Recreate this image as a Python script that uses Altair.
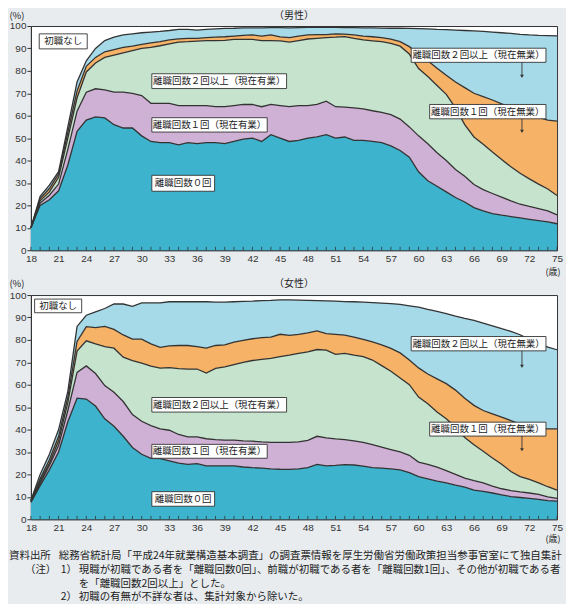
import altair as alt
import pandas as pd

FONT = "Noto Sans CJK JP"
INK = "#333333"
W, H = 528, 225

AGES = list(range(18, 76))

SERIES = [
    "離職回数0回",
    "離職回数1回（現在有業）",
    "離職回数2回以上（現在有業）",
    "離職回数1回（現在無業）",
    "離職回数2回以上（現在無業）",
]
COLOURS = ["#3db3cd", "#cfb1d5", "#c6e4cd", "#f6b266", "#a7dae9"]

# upper edge (cumulative %) of each band, ages 18..75
MALE_ZERO = [10, 20, 22.5, 26.5, 38, 53, 58, 59.5, 59, 56,
             54.5, 54.5, 51, 48.5, 48, 48, 47, 48, 47.5, 48,
             48, 47.5, 48.5, 49.5, 50, 48.5, 51.5, 50, 48.5, 49,
             50, 50.5, 51.5, 50, 50.5, 49, 49, 48.5, 48, 46.5,
             44.5, 41.5, 35, 31, 28.5, 26, 23.5, 21.5, 19, 17.5,
             16.3, 15.6, 15, 14.4, 13.8, 13.2, 12.6, 11.8]
MALE_ONE_EMP = [10, 21, 24.5, 29.5, 45, 62, 70.5, 72, 71.5, 70.5,
                70.5, 70, 69, 65.5, 65.5, 65.5, 64.5, 64.5, 64.5, 64.5,
                64, 64, 64.5, 65, 65, 64, 65, 64.5, 64, 64.5,
                64.5, 65, 66.5, 64, 63.8, 63.5, 63, 62.2, 61.5, 60.5,
                58.5, 55, 51, 47.5, 43.5, 40, 36, 33, 29.3, 27,
                25.3, 23.7, 22, 20.5, 19.5, 18.6, 17.5, 15.8]
MALE_TWO_EMP = [10, 22, 26, 32.5, 50, 68, 79.5, 83.5, 86, 87,
                88, 89, 90, 90.5, 91.2, 92, 92.8, 93, 93.3, 93.5,
                93.5, 93.6, 94, 94, 94, 93.5, 93.5, 93.4, 92.8, 93.5,
                94.2, 94.5, 94.8, 95, 95.3, 94.5, 93.8, 93.4, 93, 92.3,
                91, 87.5, 81, 77.5, 73.5, 69.5, 63.5, 56, 50.5, 47.3,
                43.8, 40.5, 37.2, 34.3, 31.8, 29.5, 27.3, 24.4]
MALE_ONE_NOEMP = [10, 23, 27.5, 34, 52.5, 71, 82, 86, 88.5, 89.5,
                  90.5, 91, 91.8, 92.5, 93, 93.8, 94.3, 94.5, 94.5, 94.8,
                  95, 95.2, 95.5, 95.8, 96, 95.5, 96, 95.2, 94.8, 95.5,
                  96, 96.2, 96.2, 96.5, 96.4, 96, 95.5, 95.2, 94.8, 94.2,
                  93, 90.8, 87.5, 84.5, 81.2, 78, 75, 72.5, 70, 68.5,
                  67, 65.3, 63.8, 62.2, 60.7, 59.2, 58, 57.6]
MALE_TWO_NOEMP = [10, 24, 29, 35, 55, 75, 84.5, 90, 93.5, 95,
                  96, 96.5, 97, 97.3, 97.6, 98, 98.5, 98.5, 98.2, 98.5,
                  98.7, 98.9, 99, 99.2, 99.2, 99.2, 99.3, 99.3, 99.2, 99.3,
                  99.4, 99.4, 99.5, 99.4, 99.3, 99.3, 99.2, 99.2, 99.1, 99,
                  99, 98.9, 98.8, 98.7, 98.5, 98.4, 98.2, 98, 97.8, 97.6,
                  97.3, 97, 96.7, 96.3, 96, 95.8, 95.7, 95.6]

FEMALE_ZERO = [7.5, 15, 22, 30, 43.5, 54, 53.6, 50.5, 44.8, 41.5,
               37, 32, 29, 27.2, 27, 26, 25, 24.5, 24.8, 23.8,
               23.8, 23.8, 23.8, 23.3, 23, 22.8, 22.5, 22.3, 22.2, 22.5,
               23, 24.5, 23.8, 24, 24.4, 24.2, 23.7, 23, 22.8, 22.5,
               22, 20.8, 19, 18, 17, 16.2, 15.2, 14.3, 13, 12.4,
               11.7, 10.9, 10.1, 9.7, 9.3, 8.9, 8.3, 8.1]
FEMALE_ONE_EMP = [7.8, 16, 24, 33, 48.5, 65.5, 68.4, 65, 59.6, 56.6,
                  52.5, 46.7, 43.7, 41.8, 40.3, 39.7, 37.8, 36.7, 36.7, 35.9,
                  35.5, 35.3, 35.3, 35, 34.8, 34.5, 34.3, 34.3, 34.3, 34.5,
                  35.2, 37, 36.3, 35.8, 35.5, 35, 34.3, 33.3, 32.2, 31.1,
                  30, 28.5, 25.5, 24.5, 23.2, 21.7, 20, 18.3, 17.2, 16.2,
                  14.8, 13.6, 12.8, 12.2, 11.7, 11.1, 10, 9.3]
FEMALE_TWO_EMP = [8, 17, 25, 35, 52, 75, 79.6, 78.2, 77, 76.3,
                  72.3, 70.8, 69.6, 68.3, 67.4, 67.6, 67.2, 67, 67, 65.2,
                  67.3, 68, 69, 70, 70.8, 71.3, 71.8, 72.5, 73.2, 74,
                  74.7, 75.7, 75.4, 73.5, 74, 73.2, 72.5, 71, 68.5, 66,
                  63, 60, 54.5, 51.5, 47.8, 44.8, 41, 36.5, 33.2, 30.3,
                  27.3, 24.5, 21.3, 19, 17.8, 16.2, 14.5, 13]
FEMALE_ONE_NOEMP = [8.2, 18, 26.5, 37, 54.5, 79.3, 85.9, 85.5, 86, 84.7,
                    82.2, 80.3, 80.3, 78.2, 76.7, 77.3, 77.5, 77.5, 77, 76.3,
                    77.5, 77.8, 79, 79.8, 80.5, 81, 81.2, 82.5, 82, 82.5,
                    83.1, 84, 82.8, 82.5, 82.1, 81.2, 80.2, 79.1, 77.8, 76.2,
                    74.2, 71, 67.5, 64.8, 62.6, 60.5, 57.6, 54, 50.8, 48.5,
                    47, 45.5, 44, 42.4, 41.3, 40.7, 40.3, 40.3]
FEMALE_TWO_NOEMP = [8.5, 20, 29, 40, 57, 86, 91, 92.5, 94, 96,
                    96, 95, 96.5, 96.5, 96.5, 97, 97, 97, 97, 97,
                    96.8, 96.8, 97, 97.2, 97.3, 97.5, 97.6, 97.8, 97.8, 97.7,
                    97.6, 97.5, 97.4, 97.3, 97.1, 97, 96.8, 96.6, 96.4, 96.2,
                    95.8, 95.2, 94.6, 93.6, 92.7, 91.7, 90.6, 89.6, 88.7, 87.5,
                    86.3, 85, 83.8, 82.3, 80.2, 78.6, 76.8, 75.6]

# label boxes: text, x from/to (age), y from/to (%)
MALE_BOXES = [
    ("初職なし", 18.9, 24.1, 89.8, 96.5),
    ("離職回数２回以上（現在有業）", 31.1, 45.7, 72.1, 78.7),
    ("離職回数１回（現在有業）", 31.1, 43.6, 52.7, 59.1),
    ("離職回数０回", 31.1, 37.9, 26.3, 33.4),
    ("離職回数２回以上（現在無業）", 59.2, 73.8, 83.8, 90.1),
    ("離職回数１回（現在無業）", 61.2, 73.8, 58.6, 65.0),
]
FEMALE_BOXES = [
    ("初職なし", 18.4, 23.5, 92.1, 98.2),
    ("離職回数２回以上（現在有業）", 31.1, 45.7, 47.8, 54.3),
    ("離職回数１回（現在有業）", 31.1, 43.6, 27.2, 33.4),
    ("離職回数０回", 31.1, 37.9, 5.8, 12.3),
    ("離職回数２回以上（現在無業）", 59.2, 73.8, 75.1, 81.5),
    ("離職回数１回（現在無業）", 61.2, 73.8, 37.1, 43.3),
]
# arrows: age, from %, to %
MALE_ARROWS = [(71.2, 83.8, 77.5), (71.2, 58.6, 53.0)]
FEMALE_ARROWS = [(71.2, 75.1, 68.2), (71.2, 37.1, 31.0)]

ONE = pd.DataFrame({"n": [0]})


def x_enc(field):
    return alt.X(
        field,
        type="quantitative",
        scale=alt.Scale(domain=[18, 75], nice=False, zero=False),
        axis=alt.Axis(values=list(range(18, 76, 3)), ticks=False, labelPadding=3,
                      title=None, grid=False, labelFlush=False),
    )


def y_enc(field):
    return alt.Y(
        field,
        type="quantitative",
        scale=alt.Scale(domain=[0, 100], nice=False),
        axis=alt.Axis(values=list(range(0, 101, 10)), tickSize=4, labelPadding=1,
                      title=None, grid=False),
    )


def note(text, x, y, size=10, align="center"):
    return (
        alt.Chart(ONE)
        .mark_text(text=text, align=align, baseline="middle", fontSize=size,
                   font=FONT, color="#222222")
        .encode(x=alt.value(x), y=alt.value(y))
    )


def panel(levels, sex, boxes, arrows, title_y, unit_y, extra=()):
    rows, edges = [], []
    for i, name in enumerate(SERIES):
        lower = [0] * len(AGES) if i == 0 else levels[i - 1]
        for age, lo, hi in zip(AGES, lower, levels[i]):
            rows.append({"age": age, "lo": lo, "hi": hi, "series": name})
        for age, v in zip(AGES, levels[i]):
            edges.append({"age": age, "v": v, "edge": i})
    bands = pd.DataFrame(rows)
    edges = pd.DataFrame(edges)

    areas = (
        alt.Chart(bands)
        .mark_area(interpolate="linear")
        .encode(
            x=x_enc("age"),
            y=y_enc("lo"),
            y2="hi",
            color=alt.Color("series:N", scale=alt.Scale(domain=SERIES, range=COLOURS),
                            legend=None),
        )
    )
    lines = (
        alt.Chart(edges)
        .mark_line(color=INK, strokeWidth=1.3)
        .encode(x=x_enc("age"), y=y_enc("v"), detail="edge:N")
    )
    ticks = (
        alt.Chart(pd.DataFrame({"age": AGES, "t0": 0, "t1": 1.5}))
        .mark_rule(color=INK, strokeWidth=0.8)
        .encode(x=x_enc("age"), y=y_enc("t0"), y2="t1")
    )

    box_df = pd.DataFrame(boxes, columns=["text", "x0", "x1", "y0", "y1"])
    box_df["cx"] = (box_df["x0"] + box_df["x1"]) / 2
    box_df["cy"] = (box_df["y0"] + box_df["y1"]) / 2
    rects = (
        alt.Chart(box_df)
        .mark_rect(fill="white", stroke=INK, strokeWidth=0.9)
        .encode(x=x_enc("x0"), x2="x1", y=y_enc("y0"), y2="y1")
    )
    labels = (
        alt.Chart(box_df)
        .mark_text(font=FONT, fontSize=9.5, color="#222222", baseline="middle")
        .encode(x=x_enc("cx"), y=y_enc("cy"), text="text:N")
    )

    arr_df = pd.DataFrame(arrows, columns=["age", "y0", "y1"])
    shafts = (
        alt.Chart(arr_df)
        .mark_rule(color=INK, strokeWidth=0.9)
        .encode(x=x_enc("age"), y=y_enc("y0"), y2="y1")
    )
    heads = (
        alt.Chart(arr_df)
        .mark_point(shape="triangle-down", filled=True, size=14, color=INK, opacity=1)
        .encode(x=x_enc("age"), y=y_enc("y1"))
    )

    layers = [areas, lines, ticks, rects, labels, shafts, heads,
              note("(%)", -14, title_y, size=9.5),
              note(sex, W / 2, title_y, size=10),
              note("(歳)", W - 4, unit_y, size=9)]
    layers += list(extra)
    return alt.layer(*layers).properties(width=W, height=H)


notes = [
    note("資料出所", -22, H + 36.5, size=10.5, align="left"),
    note("総務省統計局「平成24年就業構造基本調査」の調査票情報を厚生労働省労働政策担当参事官室にて独自集計",
         28, H + 36.5, size=10.5, align="left"),
    note("（注）", -6, H + 50.5, size=10.5, align="left"),
    note("1）", 30, H + 50.5, size=10.5, align="left"),
    note("現職が初職である者を「離職回数0回」、前職が初職である者を「離職回数1回」、その他が初職である者",
         48, H + 50.5, size=10.5, align="left"),
    note("を「離職回数2回以上」とした。", 48, H + 64.5, size=10.5, align="left"),
    note("2）", 30, H + 78.5, size=10.5, align="left"),
    note("初職の有無が不詳な者は、集計対象から除いた。", 48, H + 78.5, size=10.5, align="left"),
]

male = panel(
    [MALE_ZERO, MALE_ONE_EMP, MALE_TWO_EMP, MALE_ONE_NOEMP, MALE_TWO_NOEMP],
    "（男性）", MALE_BOXES, MALE_ARROWS, -10, H + 22,
)
female = panel(
    [FEMALE_ZERO, FEMALE_ONE_EMP, FEMALE_TWO_EMP, FEMALE_ONE_NOEMP, FEMALE_TWO_NOEMP],
    "（女性）", FEMALE_BOXES, FEMALE_ARROWS, -11, H + 20, extra=notes,
)

chart = (
    alt.vconcat(male, female, spacing=0)
    .properties(padding={"left": 0, "top": 1, "right": 2, "bottom": 2},
                background="#e8ecef")
    .configure_view(fill="white", stroke=INK, strokeWidth=1)
    .configure_axis(labelFont="Liberation Sans", labelFontSize=10, labelColor=INK,
                    domainColor=INK, tickColor=INK)
)

chart.save("out.html", embed_options={"renderer": "svg", "actions": False})
